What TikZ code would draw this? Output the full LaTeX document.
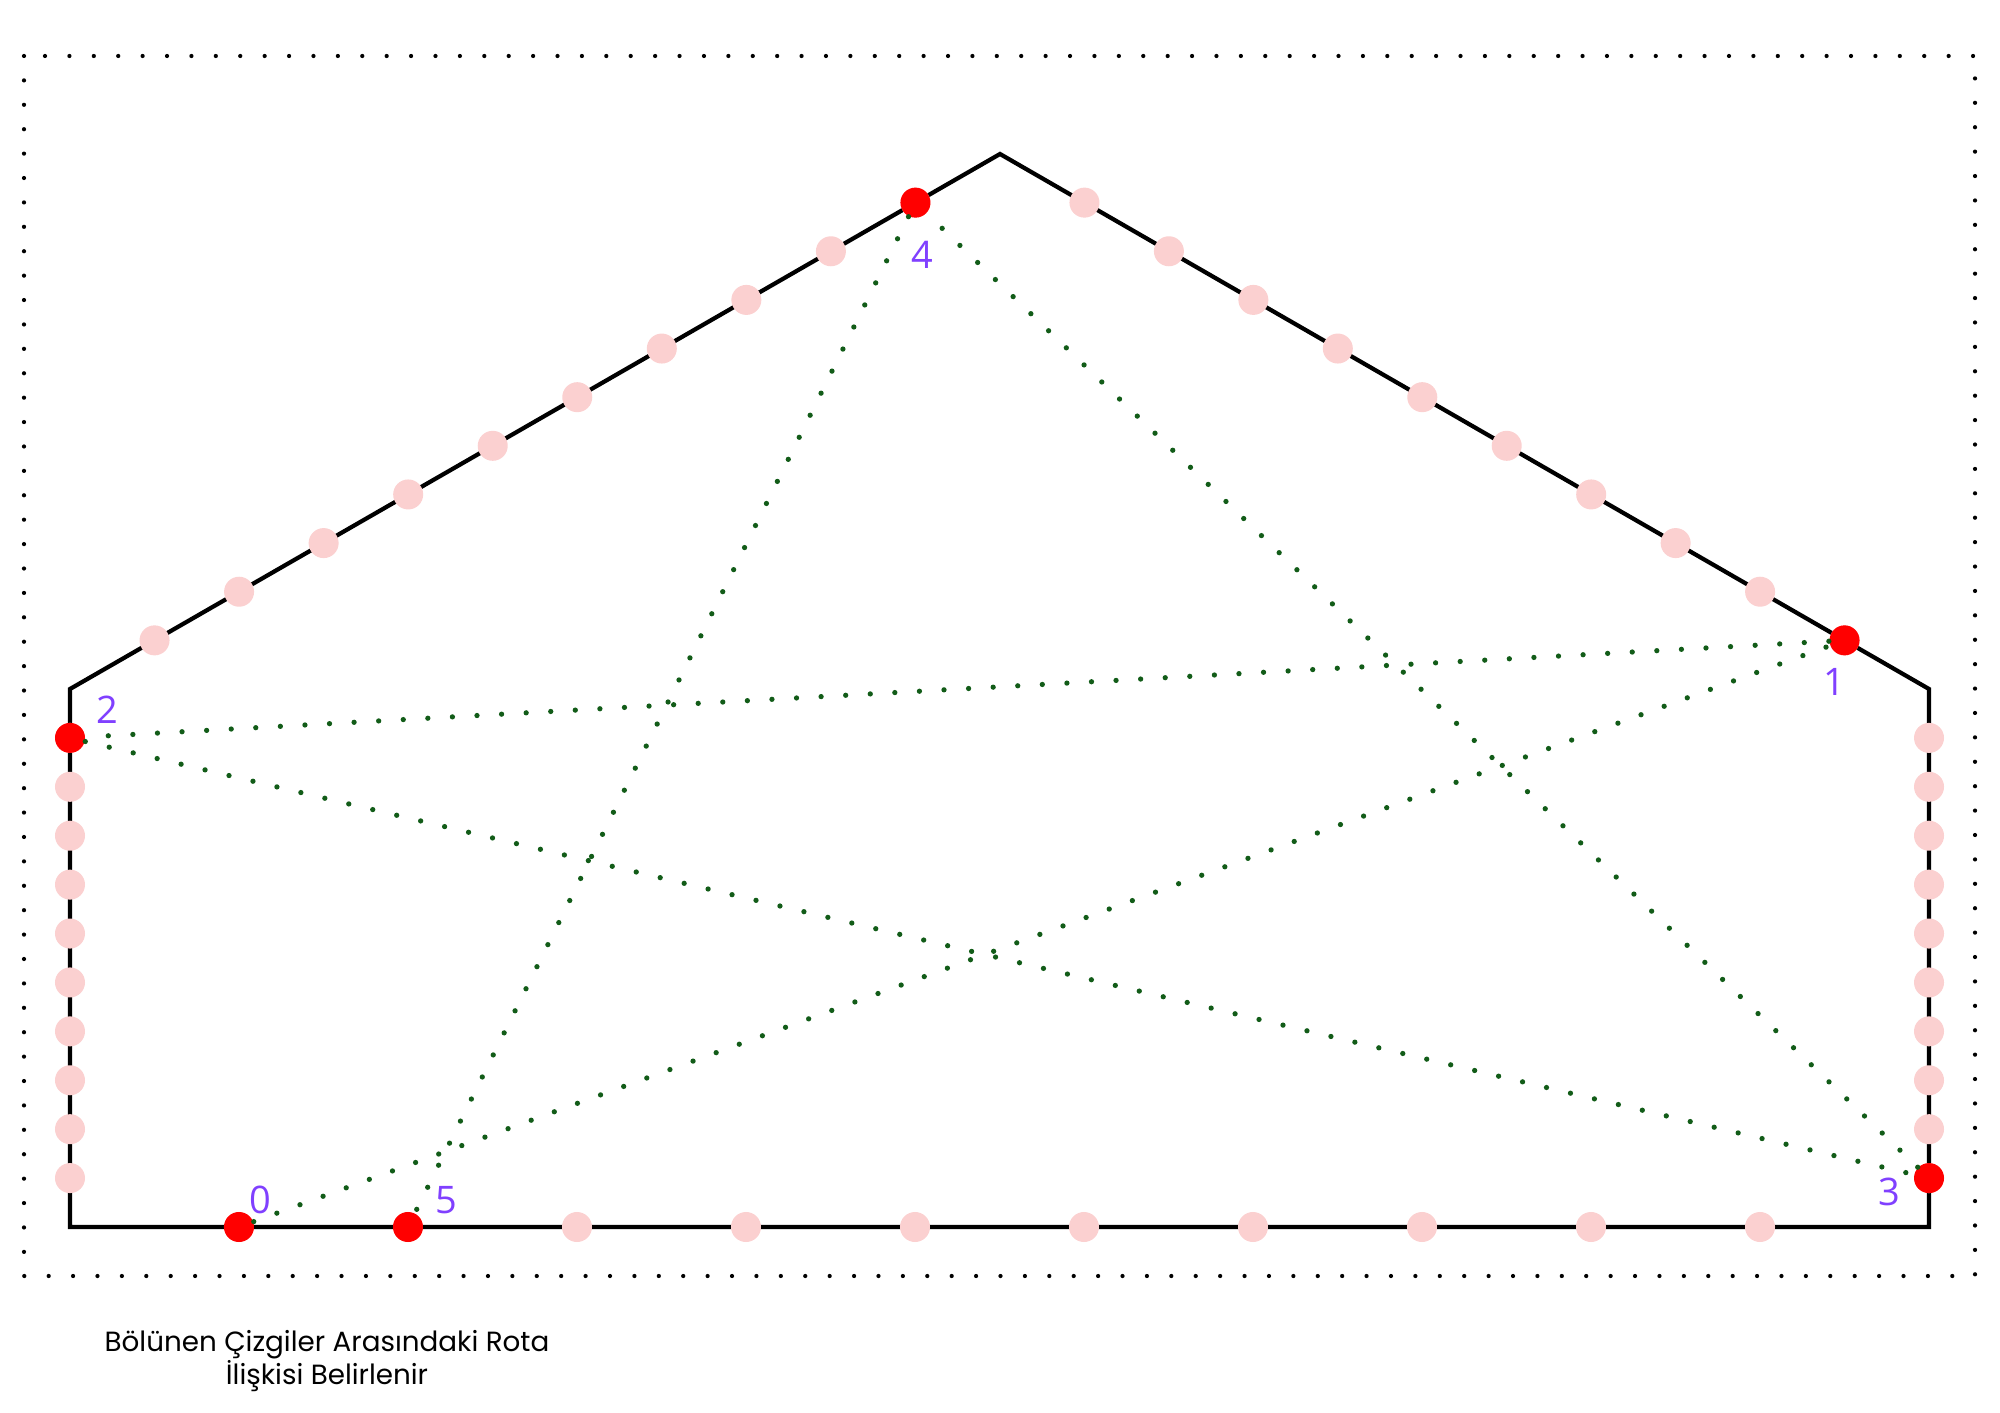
\documentclass[tikz,border=0pt]{standalone}
\usepackage{fontspec}
\setmainfont{Open Sans}
\newfontfamily\capfont{Poppins}
\usetikzlibrary{calc}
\definecolor{dotpink}{RGB}{251,208,208}
\definecolor{routegreen}{RGB}{18,92,24}
\definecolor{labpurple}{RGB}{128,64,255}
\tikzset{
  divdot/.style={circle,fill=dotpink,inner sep=0pt,minimum size=0.3cm},
  hitdot/.style={circle,fill=red,inner sep=0pt,minimum size=0.3cm},
  lab/.style={text=labpurple,font=\fontsize{10.8}{13}\selectfont,inner sep=0pt},
  route/.style={routegreen,line width=1.5pt,line cap=round,dash pattern=on 0pt off 7pt},
  frame/.style={black,line width=1.2pt,line cap=round,dash pattern=on 0pt off 6.94pt},
  wall/.style={black,line width=1.2pt,line join=miter}
}

\begin{document}
\begin{tikzpicture}[x=0.01cm,y=-0.01cm]
\useasboundingbox (0,0) rectangle (2000,1413);
\draw[frame] (24,56) rectangle (1975,1276);
\coordinate (bl) at (70,1227);
\coordinate (br) at (1929,1227);
\coordinate (er) at (1929,689);
\coordinate (apex) at (1000,154);
\coordinate (el) at (70,689);
\draw[wall] (bl) -- (br) -- (er) -- (apex) -- (el) -- cycle;
\foreach \a/\b/\s in {bl/br/bt,el/bl/lw,er/br/rw,el/apex/lr,apex/er/rr}
  \foreach \k in {1,...,10}
    \node[divdot] (\s\k) at ($(\a)!\k/11!(\b)$) {};
\node[hitdot] (p0) at (bt1) {};
\node[hitdot] (p1) at (rr10) {};
\node[hitdot] (p2) at (lw1) {};
\node[hitdot] (p3) at (rw10) {};
\node[hitdot] (p4) at (lr10) {};
\node[hitdot] (p5) at (bt2) {};
\draw[route] (p0) -- (p1) -- (p2) -- (p3) -- (p4) -- (p5);
\node[lab] (l0) at ($(p0)+(21,-27)$) {0};
\node[lab] (l1) at ($(p1)+(-10,42)$) {1};
\node[lab] (l2) at ($(p2)+(37,-28)$) {2};
\node[lab] (l3) at ($(p3)+(-40,14)$) {3};
\node[lab] (l4) at ($(p4)+(7,52)$) {4};
\node[lab] (l5) at ($(p5)+(38,-27)$) {5};
\node[align=center,font=\capfont\fontsize{7.9}{9.4}\selectfont] (cap) at (327,1361)
  {Bölünen Çizgiler Arasındaki Rota\\İlişkisi Belirlenir};
\end{tikzpicture}
\end{document}
